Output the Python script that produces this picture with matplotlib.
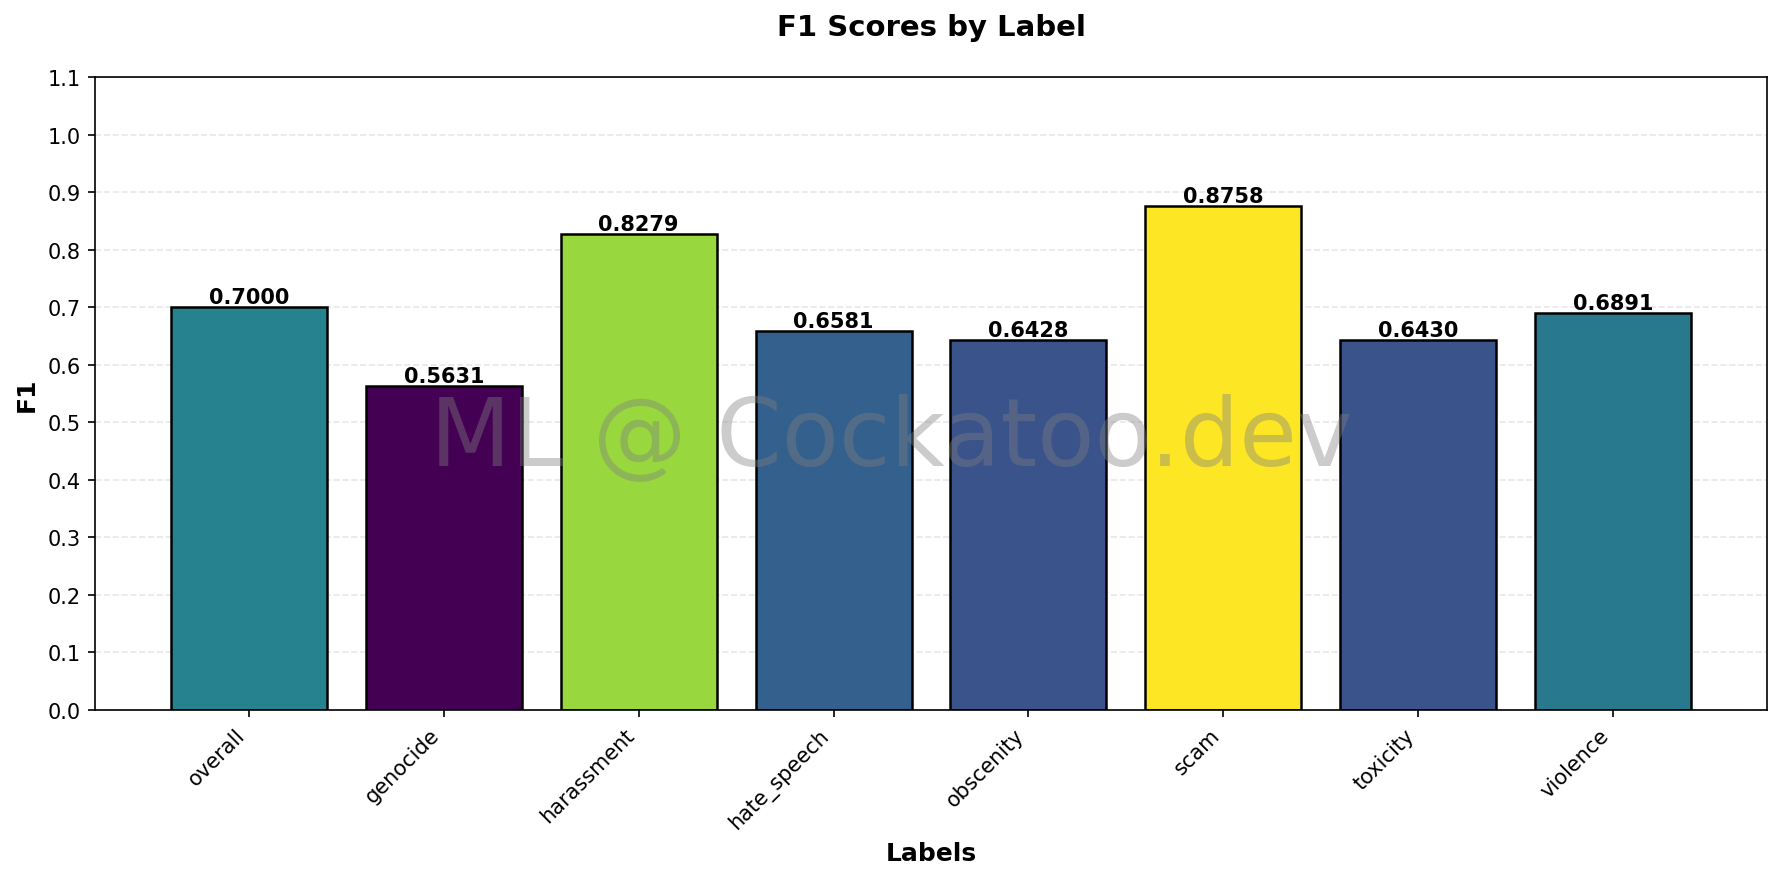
import numpy as np
import matplotlib
matplotlib.use("Agg")
import matplotlib.pyplot as plt

labels = ['overall', 'genocide', 'harassment', 'hate_speech', 'obscenity', 'scam', 'toxicity', 'violence']
f1_scores = [0.7000, 0.5631, 0.8279, 0.6581, 0.6428, 0.8758, 0.6430, 0.6891]

vals = np.array(f1_scores)
norm = (vals - vals.min()) / (vals.max() - vals.min())
colors = plt.cm.viridis(norm)

fig = plt.figure(figsize=(11.88, 5.8733), dpi=150)
ax = fig.add_axes([95 / 1782, 1 - 711 / 881, (1767 - 95) / 1782, (711 - 78) / 881])

x = np.arange(len(labels))
bars = ax.bar(x, f1_scores, width=0.8, color=colors, edgecolor='black', linewidth=1.2, zorder=2)

for bar, v in zip(bars, f1_scores):
    ax.text(bar.get_x() + bar.get_width() / 2, bar.get_height(), f'{v:.4f}',
            ha='center', va='bottom', fontsize=10, fontweight='bold', zorder=3)

ax.set_ylim(0, 1.1)
ax.set_yticks(np.arange(0, 1.11, 0.1))
ax.set_xticks(x)
ax.set_xticklabels(labels, rotation=45, ha='right')
ax.grid(axis='y', linestyle='--', alpha=0.3, zorder=0)
ax.set_axisbelow(True)

ax.set_title('F1 Scores by Label', fontsize=14, fontweight='bold', pad=20)
ax.set_xlabel('Labels', fontsize=12, fontweight='bold')
ax.set_ylabel('F1', fontsize=12, fontweight='bold')

fig.text(0.5, 0.5, 'ML @ Cockatoo.dev', fontsize=45, color='gray', alpha=0.4,
         ha='center', va='center', zorder=10)

fig.savefig('out.png', dpi=150)
